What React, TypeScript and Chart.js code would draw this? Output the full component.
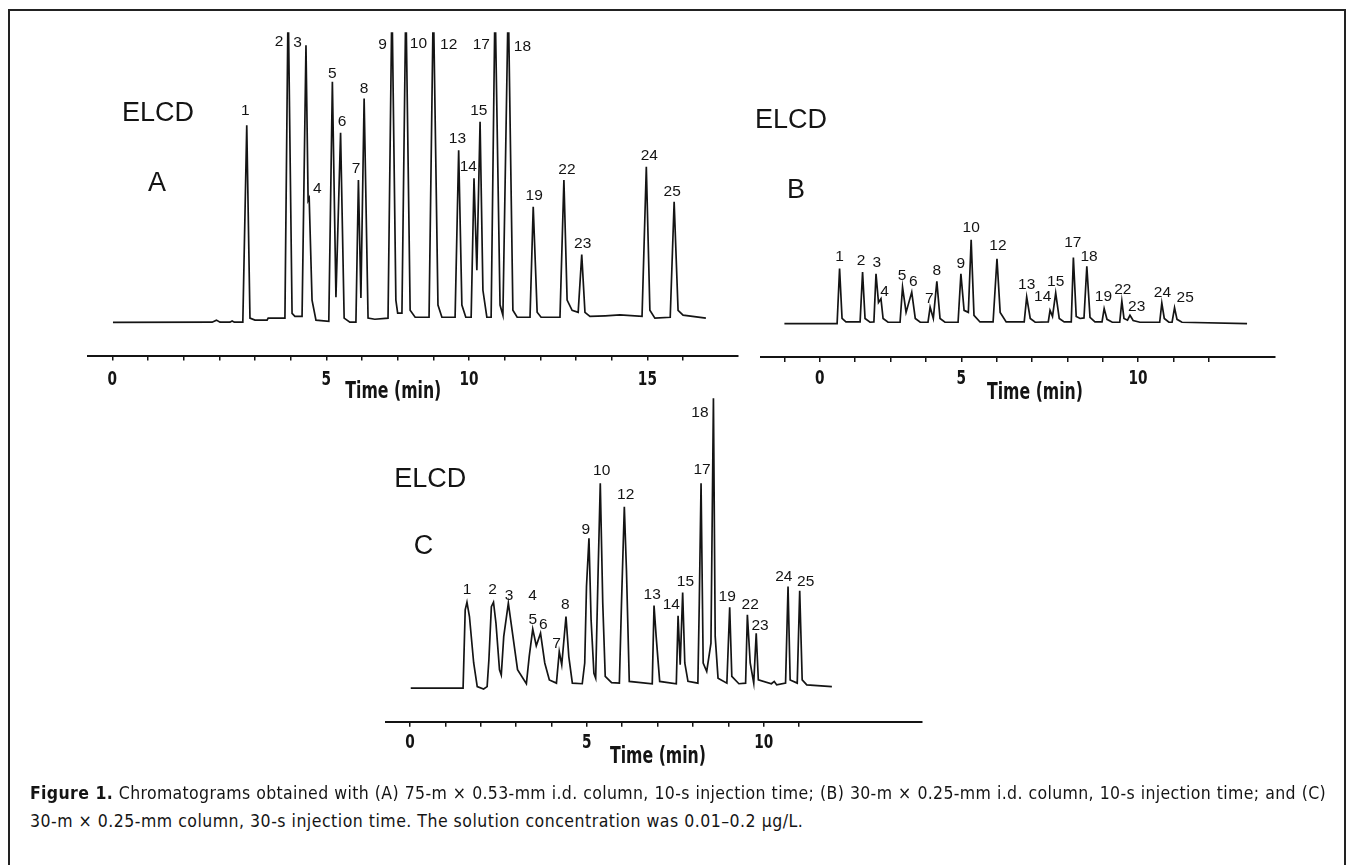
import React, { useEffect, useRef } from "react";
import { Chart, registerables } from "chart.js";

Chart.register(...registerables);

// ---------------- DATA ----------------
// Peak numbers (same compounds in every run)
const PEAK_IDS = ["1","2","3","4","5","6","7","8","9","10","12","13","14","15","17","18","19","22","23","24","25"];

// Run A: 75-m x 0.53-mm column, 10-s injection
const PEAK_TIME_A = [3.77,4.93,5.43,5.52,6.17,6.40,6.90,7.06,7.84,8.23,9.00,9.71,10.14,10.31,10.73,11.10,11.80,12.66,13.16,14.97,15.75];
const PEAK_SIGNAL_A = [67.9,112,95.5,42.8,82.9,65.3,49,77.1,112,112,112,59.3,49.6,69.1,112,112,39.8,49,23.3,53.6,41.5];
const TRACE_TIME_A = [
  0.02, 2.80, 2.92, 3.02, 3.30, 3.36, 3.42,
  3.66, 3.77, 3.86, 4.00, 4.34, 4.37,
  4.84, 4.93, 5.04, 5.12,
  5.32, 5.43, 5.49, 5.52, 5.60, 5.71,
  6.07, 6.17, 6.27, 6.40, 6.50, 6.66,
  6.83, 6.90, 6.97, 7.06, 7.17, 7.36,
  7.73, 7.84, 7.95, 8.00,
  8.12, 8.23, 8.35, 8.49,
  8.88, 9.00, 9.13, 9.24,
  9.61, 9.71, 9.80, 9.91,
  10.06, 10.14, 10.22, 10.31, 10.39, 10.50,
  10.62, 10.73, 10.87, 10.95, 11.10, 11.23, 11.35,
  11.71, 11.80, 11.91, 12.02,
  12.55, 12.66, 12.75, 12.89,
  13.06, 13.16, 13.25, 13.39, 13.82, 14.23,
  14.85, 14.97, 15.07, 15.21,
  15.64, 15.75, 15.86, 16.00, 16.64,
];
const TRACE_SIGNAL_A = [
  -0.1, 0, 0.7, 0, 0, 0.4, 0,
  0, 67.9, 1.4, 0.7, 0.7, 1.4,
  1.4, 112, 3, 2,
  2, 95.5, 42, 42.8, 7.6, 0.7,
  0.3, 82.9, 8.6, 65.3, 1.4, 0,
  0, 49, 8.3, 77.1, 1.4, 1,
  1.4, 112, 7.6, 3.1,
  3.1, 112, 4.1, 1.7,
  1.7, 112, 5.9, 1.7,
  1.7, 59.3, 5.9, 1.7,
  1.7, 49.6, 17.9, 69.1, 11, 1.7,
  1.7, 112, 5.9, 2.4, 112, 4.1, 1.7,
  1.7, 39.8, 3.4, 1.7,
  1.7, 49, 7.6, 4.1,
  3.4, 23.3, 3.4, 2, 2.2, 2.5,
  2, 53.6, 4.1, 1.4,
  1.7, 41.5, 4.1, 2.4, 1.4,
];
const AXIS_TICKS_A = [0,1,2,3,4,5,6,7,8,9,10,11,12,13,14,15,16];
const TICK_LABELS_A = ["0","5","10","15"];
const TICK_LABEL_AT_A = [0, 6, 10, 15];

// Run B: 30-m x 0.25-mm column, 10-s injection
const PEAK_TIME_B = [1.56,2.21,2.59,2.73,3.34,3.60,4.12,4.31,4.99,5.28,6.01,6.85,7.51,7.67,8.17,8.55,9.04,9.54,9.77,10.67,11.03];
const PEAK_SIGNAL_B = [19,17.8,17.2,8.6,12.6,10.9,5.7,14.6,17.2,29,22.4,9.2,4.6,10.6,22.8,19.8,5.2,7.8,2.9,7.1,5.5];
const TRACE_TIME_B = [
  0.00, 1.49,
  1.56, 1.63, 1.74,
  2.14, 2.21, 2.28, 2.42,
  2.53, 2.59, 2.66, 2.73, 2.79, 2.93,
  3.27, 3.34, 3.44, 3.60, 3.70, 3.84,
  4.06, 4.12, 4.21, 4.31, 4.40, 4.54,
  4.91, 4.99, 5.08, 5.20, 5.28, 5.36, 5.53,
  5.90, 6.01, 6.10, 6.27,
  6.78, 6.85, 6.95, 7.09,
  7.46, 7.51, 7.58, 7.67, 7.77, 7.91,
  8.11, 8.17, 8.25, 8.36, 8.47, 8.55, 8.64, 8.78,
  8.98, 9.04, 9.12, 9.27,
  9.48, 9.54, 9.60, 9.70, 9.77, 9.86, 10.05,
  10.61, 10.67, 10.74, 10.87,
  10.96, 11.03, 11.10, 11.24, 13.08,
];
const TRACE_SIGNAL_B = [
  0, 0,
  19, 1.8, 0.6,
  0.6, 17.8, 1.8, 0.5,
  0.6, 17.2, 7.3, 8.6, 1.8, 0.5,
  0.5, 12.6, 3.9, 10.9, 1.8, 0.5,
  0.5, 5.7, 1.8, 14.6, 1.8, 0.5,
  0.5, 17.2, 4.6, 3.9, 29, 2.9, 0.6,
  0.6, 22.4, 3.9, 0.6,
  0.6, 9.2, 1.8, 0.5,
  0.6, 4.6, 2.5, 10.6, 1.8, 0.6,
  0.6, 22.8, 2.5, 1.8, 2, 19.8, 2.2, 0.6,
  0.6, 5.2, 1.5, 0.5,
  0.5, 7.8, 1.8, 1.2, 2.9, 1.1, 0.5,
  0.5, 7.1, 1.8, 0.5,
  0.5, 5.5, 1.5, 0.5, 0,
];
const AXIS_TICKS_B = [0,1,2,3,4,5,6,7,8,9,10,11,12];
const TICK_LABELS_B = ["0","5","10"];
const TICK_LABEL_AT_B = [1, 5, 10];

// Run C: 30-m x 0.25-mm column, 30-s injection
const PEAK_TIME_C = [1.61,2.36,2.78,3.45,3.47,3.69,4.22,4.41,5.06,5.38,6.06,6.90,7.58,7.71,8.23,8.58,9.04,9.54,9.79,10.69,11.02];
const PEAK_SIGNAL_C = [29.4,29.4,29.1,20.2,20.2,18.8,12.5,24.5,51.3,70.1,62.1,28.3,24.8,32.7,70.1,99.2,27.7,25.1,18.8,34.8,33.3];
const TRACE_TIME_C = [
  0.02, 1.48,
  1.50, 1.56, 1.61, 1.68, 1.80, 1.90, 2.08, 2.18,
  2.23, 2.30, 2.36, 2.43, 2.53, 2.58,
  2.65, 2.78, 2.91, 3.04, 3.29,
  3.37, 3.47, 3.57, 3.69, 3.81, 3.94, 4.14,
  4.22, 4.29, 4.41, 4.49, 4.59, 4.87,
  4.94, 4.99, 5.06, 5.12, 5.20, 5.25, 5.32, 5.38, 5.45, 5.52, 5.70, 5.92,
  5.98, 6.06, 6.12, 6.20, 6.85,
  6.90, 6.96, 7.06, 7.53,
  7.58, 7.64, 7.71, 7.77, 7.86, 8.14,
  8.18, 8.23, 8.29, 8.39, 8.51, 8.58, 8.63, 8.71, 8.96,
  9.04, 9.10, 9.30,
  9.49, 9.54, 9.62, 9.72, 9.79, 9.85, 10.22, 10.30, 10.37,
  10.62, 10.69, 10.75, 10.95,
  11.02, 11.09, 11.22, 11.93,
];
const TRACE_SIGNAL_C = [
  0, 0,
  0, 26.8, 29.4, 24.5, 8.6, 0.5, -0.3, 0.5,
  9.7, 27.9, 29.4, 22.2, 6.3, 4.5,
  17.7, 29.1, 17.7, 6.3, 1.5,
  10.8, 20.2, 14.5, 18.8, 8.6, 2.8, 1.7,
  12.5, 8, 24.5, 10.8, 1.7, 1.5,
  8.6, 34.8, 51.3, 23.4, 5.1, 3.4, 40.5, 70.1, 29.1, 4, 1.9, 1.7,
  29.1, 62.1, 40.5, 2.3, 1.5,
  28.3, 17.7, 2.3, 1.5,
  24.8, 8, 32.7, 8.6, 2.3, 1.7,
  29.1, 70.1, 8.6, 5.7, 15.4, 99.2, 17.7, 3.4, 1.7,
  27.7, 4, 1.5,
  1.7, 25.1, 8.6, 1.7, 18.8, 2.8, 1.5, 2.3, 1.1,
  1.7, 34.8, 2.8, 1.7,
  33.3, 2.8, 1.1, 0.5,
];
const AXIS_TICKS_C = [0,1,2,3,4,5,6,7,8,9,10,11];
const TICK_LABELS_C = ["0","5","10"];
const TICK_LABEL_AT_C = [0, 5, 10];

const CAPTION_LINE_1 = " Chromatograms obtained with (A) 75-m \u00d7 0.53-mm i.d. column, 10-s injection time; (B) 30-m \u00d7 0.25-mm i.d. column, 10-s injection time; and (C)";
const CAPTION_LINE_2 = "30-m \u00d7 0.25-mm column, 30-s injection time. The solution concentration was 0.01\u20130.2 \u00b5g/L.";

// ---------------- STYLE / LAYOUT ----------------
const INK = "#141414";
const FONT_LABEL = '15.5px "Liberation Sans", Arial, sans-serif';
const FONT_BIG = '27px "Liberation Sans", Arial, sans-serif';
const FONT_TICK = 'bold 20px "DejaVu Sans Condensed", "DejaVu Sans", sans-serif';
const FONT_TITLE = 'bold 23px "DejaVu Sans Condensed", "DejaVu Sans", sans-serif';
const NARROW = 0.76; // horizontal compression of the condensed axis lettering
const LABEL_GAP = 11.5;
const AXIS_H = 8;

// per-label pixel nudges (label placement as in the figure)
const NUDGE_A = [[-1.4,-3.5],[-9,21.3],[-8.5,9],[8,2],[0,3],[1.5,0.5],[-2.3,0],[0,1.5],[-9.3,24.5],[12.6,23.5],[15.4,24.3],[-1.2,0],[-5.7,0],[-1.3,0.3],[-13.7,24.3],[14.2,26],[0.9,0.6],[3,1.5],[1,1],[3,0],[-2,1.5]];
const NUDGE_B = [[0,0],[-1.6,0],[0.7,0],[3.6,4.9],[-0.6,0],[1.6,1.5],[-0.7,3],[0,0.5],[0,1.5],[0,0],[1,-1.8],[0,-1],[-7.3,-1.8],[0,0],[-0.6,-3.5],[2.3,2.2],[-0.7,0],[1,0],[6.7,3.2],[0.6,1.5],[10.7,1]];
const NUDGE_C = [[0,-1],[-1,-1],[0.7,4.2],[0.6,-21.6],[0,2.2],[2.8,3.2],[-2.8,3.2],[-0.7,-0.8],[-3.2,2.5],[1.4,-1.2],[1.4,-0.2],[-1.8,0.8],[-6.7,0.8],[2.8,0.5],[1,-1.8],[-13.5,25.9],[-2.5,0.8],[2.8,1.5],[3.9,3.8],[-4.2,1.5],[6,2.2]];

type Panel = {
  letter: string;
  canvas: { left: number; top: number; width: number; height: number };
  area: { l: number; r: number; t: number; b: number };
  xMin: number; xMax: number;
  time: number[]; signal: number[];
  peakTime: number[]; peakSignal: number[]; nudge: number[][];
  ticks: number[]; tickLabels: string[]; tickLabelAt: number[];
  tickBaseline: number; titleX: number; titleBaseline: number;
  elcd: [number, number]; letterPos: [number, number];
};

const PANELS: Panel[] = [
  {
    letter: "A",
    canvas: { left: 60, top: 0, width: 690, height: 420 },
    area: { l: 88, r: 738, t: 32.2, b: 355.5 },
    xMin: -0.68, xMax: 17.54,
    time: TRACE_TIME_A, signal: TRACE_SIGNAL_A,
    peakTime: PEAK_TIME_A, peakSignal: PEAK_SIGNAL_A, nudge: NUDGE_A,
    ticks: AXIS_TICKS_A, tickLabels: TICK_LABELS_A, tickLabelAt: TICK_LABEL_AT_A,
    tickBaseline: 385, titleX: 393.3, titleBaseline: 398.3,
    elcd: [158, 114], letterPos: [157, 184],
  },
  {
    letter: "B",
    canvas: { left: 745, top: 0, width: 560, height: 420 },
    area: { l: 760.7, r: 1275, t: 34, b: 357 },
    xMin: -0.67, xMax: 13.87,
    time: TRACE_TIME_B, signal: TRACE_SIGNAL_B,
    peakTime: PEAK_TIME_B, peakSignal: PEAK_SIGNAL_B, nudge: NUDGE_B,
    ticks: AXIS_TICKS_B, tickLabels: TICK_LABELS_B, tickLabelAt: TICK_LABEL_AT_B,
    tickBaseline: 384, titleX: 1035, titleBaseline: 399.3,
    elcd: [791, 121], letterPos: [796, 190.5],
  },
  {
    letter: "C",
    canvas: { left: 380, top: 380, width: 570, height: 420 },
    area: { l: 386, r: 921.7, t: 396, b: 721.7 },
    xMin: -0.68, xMax: 14.47,
    time: TRACE_TIME_C, signal: TRACE_SIGNAL_C,
    peakTime: PEAK_TIME_C, peakSignal: PEAK_SIGNAL_C, nudge: NUDGE_C,
    ticks: AXIS_TICKS_C, tickLabels: TICK_LABELS_C, tickLabelAt: TICK_LABEL_AT_C,
    tickBaseline: 748.3, titleX: 658, titleBaseline: 763.3,
    elcd: [430.3, 479.5], letterPos: [423.4, 546.7],
  },
];

function drawNarrow(ctx: CanvasRenderingContext2D, text: string, x: number, y: number) {
  ctx.save();
  ctx.translate(x, y);
  ctx.scale(NARROW, 1);
  ctx.fillText(text, 0, 0);
  ctx.restore();
}

function makeTextPlugin(p: Panel) {
  return {
    id: "panelText" + p.letter,
    afterDraw(chart: any) {
      const { ctx, chartArea } = chart;
      const xs = chart.scales.x;
      const ys = chart.scales.y;
      const ox = p.canvas.left;
      const oy = p.canvas.top;
      ctx.save();
      ctx.fillStyle = INK;
      ctx.textAlign = "center";
      // peak numbers
      ctx.font = FONT_LABEL;
      ctx.textBaseline = "middle";
      PEAK_IDS.forEach((id, i) => {
        const px = xs.getPixelForValue(p.peakTime[i]);
        const py = Math.max(ys.getPixelForValue(p.peakSignal[i]), chartArea.top);
        const n = p.nudge[i] || [0, 0];
        ctx.fillText(id, px + n[0], py - LABEL_GAP + n[1]);
      });
      // tick labels
      ctx.font = FONT_TICK;
      ctx.textBaseline = "alphabetic";
      p.tickLabels.forEach((t, i) => {
        drawNarrow(ctx, t, xs.getPixelForValue(p.tickLabelAt[i]), p.tickBaseline - oy);
      });
      // axis title
      ctx.font = FONT_TITLE;
      drawNarrow(ctx, "Time (min)", p.titleX - ox, p.titleBaseline - oy);
      // detector + run letter
      ctx.font = FONT_BIG;
      ctx.textBaseline = "middle";
      ctx.fillText("ELCD", p.elcd[0] - ox, p.elcd[1] - oy);
      ctx.fillText(p.letter, p.letterPos[0] - ox, p.letterPos[1] - oy);
      ctx.restore();
    },
  };
}

function PanelChart({ p }: { p: Panel }) {
  const ref = useRef<HTMLCanvasElement | null>(null);
  useEffect(() => {
    if (!ref.current) return;
    const c = p.canvas;
    const chart = new Chart(ref.current, {
      type: "line",
      data: {
        datasets: [
          {
            data: p.time.map((t, i) => ({ x: t, y: p.signal[i] })),
            borderColor: INK,
            borderWidth: 1.7,
            pointRadius: 0,
            tension: 0,
            fill: false,
          },
        ],
      },
      options: {
        animation: false,
        responsive: false,
        devicePixelRatio: 1,
        events: [],
        layout: {
          padding: {
            left: p.area.l - c.left,
            right: c.left + c.width - p.area.r,
            top: p.area.t - c.top,
            bottom: c.top + c.height - p.area.b - AXIS_H,
          },
        },
        plugins: { legend: { display: false }, tooltip: { enabled: false } },
        scales: {
          x: {
            type: "linear",
            min: p.xMin,
            max: p.xMax,
            afterBuildTicks: (s: any) => {
              s.ticks = p.ticks.map((v) => ({ value: v }));
            },
            afterFit: (s: any) => {
              s.height = AXIS_H;
            },
            ticks: { display: false },
            grid: { display: true, drawOnChartArea: false, drawTicks: true, tickLength: 5, color: INK, lineWidth: 1.5 },
            border: { display: true, color: INK, width: 2 },
          },
          y: { display: false, min: -11.5, max: 100 },
        },
      },
      plugins: [makeTextPlugin(p)],
    } as any);
    return () => chart.destroy();
  }, [p]);
  return (
    <canvas
      ref={ref}
      width={p.canvas.width}
      height={p.canvas.height}
      style={{ position: "absolute", left: p.canvas.left, top: p.canvas.top, width: p.canvas.width, height: p.canvas.height }}
    />
  );
}

export default function App() {
  const captionFont = '"DejaVu Sans Condensed", "DejaVu Sans", sans-serif';
  return (
    <div style={{ position: "fixed", left: 0, top: 0, width: 1354, height: 865, overflow: "hidden", background: "#fff" }}>
      <div
        style={{
          position: "absolute",
          left: 8,
          top: 9,
          width: 1338,
          height: 900,
          border: "2px solid #222",
          boxSizing: "border-box",
        }}
      />
      {PANELS.map((p) => (
        <PanelChart key={p.letter} p={p} />
      ))}
      <div
        style={{
          position: "absolute",
          left: 30,
          top: 783,
          width: 1296,
          fontFamily: captionFont,
          fontSize: 17.5,
          letterSpacing: "0.35px",
          wordSpacing: "-1px",
          lineHeight: "20px",
          color: INK,
          whiteSpace: "nowrap",
          textAlign: "justify",
          textAlignLast: "justify" as any,
        }}
      >
        <b>Figure 1.</b>
        {CAPTION_LINE_1}
      </div>
      <div
        style={{
          position: "absolute",
          left: 30,
          top: 811,
          fontFamily: captionFont,
          fontSize: 17.5,
          letterSpacing: "0.5px",
          lineHeight: "20px",
          color: INK,
          whiteSpace: "nowrap",
        }}
      >
        {CAPTION_LINE_2}
      </div>
    </div>
  );
}
